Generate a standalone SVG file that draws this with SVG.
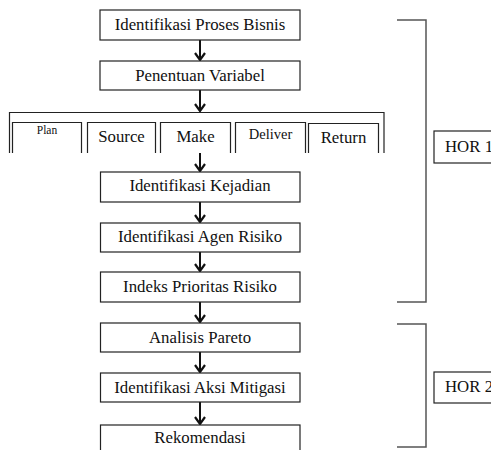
<svg xmlns="http://www.w3.org/2000/svg" width="491" height="450" viewBox="0 0 491 450">
<defs>
<style>
.box{fill:#fff;stroke:#222;stroke-width:1.2}
.t{font-family:'Liberation Serif','Times New Roman',serif;font-size:16.8px;fill:#111;text-anchor:middle}
.br{fill:none;stroke:#555;stroke-width:1.5}
.ln{fill:none;stroke:#111;stroke-width:2}
</style>
<marker id="ah" viewBox="0 0 12 10" refX="6" refY="9" markerWidth="12" markerHeight="10" markerUnits="userSpaceOnUse">
<path d="M1,2 L6,9 L11,2" fill="none" stroke="#111" stroke-width="2.2"/>
</marker>
</defs>
<rect width="491" height="450" fill="#fff"/>
<g id="connectors">
<line class="ln" x1="200" y1="40" x2="200" y2="60" marker-end="url(#ah)"/>
<line class="ln" x1="200" y1="90" x2="200" y2="111" marker-end="url(#ah)"/>
<line class="ln" x1="200" y1="153" x2="200" y2="171" marker-end="url(#ah)"/>
<line class="ln" x1="200" y1="202" x2="200" y2="222" marker-end="url(#ah)"/>
<line class="ln" x1="200" y1="252" x2="200" y2="271" marker-end="url(#ah)"/>
<line class="ln" x1="200" y1="302" x2="200" y2="322" marker-end="url(#ah)"/>
<line class="ln" x1="200" y1="352" x2="200" y2="372" marker-end="url(#ah)"/>
<line class="ln" x1="200" y1="402" x2="200" y2="424" marker-end="url(#ah)"/>
</g>
<g id="n1"><rect class="box" x="100" y="10" width="200" height="30"/><text class="t" x="200" y="30">Identifikasi Proses Bisnis</text></g>
<g id="n2"><rect class="box" x="100" y="61" width="200" height="29"/><text class="t" x="200" y="81">Penentuan Variabel</text></g>
<g id="n3">
<path class="box" d="M9.5,153 V112.5 H384 V153" fill="none"/>
<g id="n3a"><path class="box" d="M12.5,153 V122.5 H81.5 V153"/><text class="t" x="47" y="134" style="font-size:11.5px">Plan</text></g>
<g id="n3b"><path class="box" d="M87.5,153 V122.5 H155.5 V153"/><text class="t" x="121.5" y="142">Source</text></g>
<g id="n3c"><path class="box" d="M160.5,153 V122.5 H230.5 V153"/><text class="t" x="195.5" y="142">Make</text></g>
<g id="n3d"><path class="box" d="M235.5,153 V122.5 H305.5 V153"/><text class="t" x="270.5" y="139" style="font-size:14.5px">Deliver</text></g>
<g id="n3e"><path class="box" d="M308.5,153 V123.5 H378.5 V153"/><text class="t" x="343.5" y="143">Return</text></g>
</g>
<g id="n4"><rect class="box" x="100.5" y="172" width="199.5" height="30"/><text class="t" x="200" y="191">Identifikasi Kejadian</text></g>
<g id="n5"><rect class="box" x="100.5" y="223" width="199.5" height="29"/><text class="t" x="200" y="242">Identifikasi Agen Risiko</text></g>
<g id="n6"><rect class="box" x="100.5" y="272" width="199.5" height="30"/><text class="t" x="200" y="292">Indeks Prioritas Risiko</text></g>
<g id="n7"><rect class="box" x="100.5" y="323" width="199.5" height="29"/><text class="t" x="200" y="343">Analisis Pareto</text></g>
<g id="n8"><rect class="box" x="100.5" y="373" width="199.5" height="29"/><text class="t" x="200" y="393">Identifikasi Aksi Mitigasi</text></g>
<g id="n9"><rect class="box" x="100.5" y="425" width="199.5" height="30"/><text class="t" x="200" y="443">Rekomendasi</text></g>
<g id="hor1">
<path class="br" d="M397,20 H426 V302 H397"/>
<rect class="box" x="434" y="131" width="70" height="32"/>
<text class="t" x="445" y="152" style="text-anchor:start">HOR 1</text>
</g>
<g id="hor2">
<path class="br" d="M397,324 H426 V447 H397"/>
<rect class="box" x="434" y="372" width="70" height="31"/>
<text class="t" x="445" y="392" style="text-anchor:start">HOR 2</text>
</g>
</svg>
